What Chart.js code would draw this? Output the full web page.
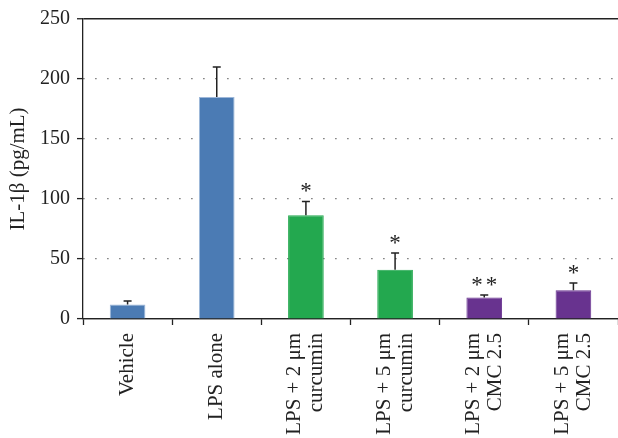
<!DOCTYPE html>
<html>
<head>
<meta charset="utf-8">
<script src="https://cdn.jsdelivr.net/npm/chart.js@4/dist/chart.umd.min.js"></script>
<style>
  html, body { margin: 0; padding: 0; background: #fff; }
  #canvas-bar { display: block; }
</style>
</head>
<body>
<canvas id="canvas-bar" width="618" height="438"></canvas>
<script>
window.addEventListener("load", start);

const categories = [
  ["Vehicle"],
  ["LPS alone"],
  ["LPS + 2 μm", "curcumin"],
  ["LPS + 5 μm", "curcumin"],
  ["LPS + 2 μm", "CMC 2.5"],
  ["LPS + 5 μm", "CMC 2.5"]
];
const meanValues = [12, 185, 86.5, 41, 18, 24];
const errorValues = [3, 25, 11.5, 14, 2, 6];
const significance = ["", "", "*", "*", "**", "*"];
const yTicks = [0, 50, 100, 150, 200, 250];

const serif = "'Liberation Serif', 'DejaVu Serif', serif";
const ink = '#222';
const labelLineHeight = 22;

// draws the upper error bar and the asterisks over each bar
const errorBarPlugin = {
  id: 'errorBars',
  afterDatasetsDraw(chart) {
    const ctx = chart.ctx;
    const yScale = chart.scales.y;
    const meta = chart.getDatasetMeta(0);
    ctx.save();
    ctx.strokeStyle = ink;
    ctx.lineWidth = 1.5;
    meta.data.forEach((bar, i) => {
      const yTop = yScale.getPixelForValue(meanValues[i] + errorValues[i]);
      const yBar = yScale.getPixelForValue(meanValues[i]);
      ctx.beginPath();
      ctx.moveTo(bar.x, yBar);
      ctx.lineTo(bar.x, yTop);
      ctx.moveTo(bar.x - 4, yTop);
      ctx.lineTo(bar.x + 4, yTop);
      ctx.stroke();
      if (significance[i]) {
        ctx.fillStyle = ink;
        ctx.font = "23px " + serif;
        ctx.letterSpacing = "3px";
        ctx.textAlign = 'center';
        ctx.textBaseline = 'alphabetic';
        ctx.fillText(significance[i], bar.x + 1.5, yTop - 3);
      }
    });
    ctx.restore();
  }
};

// center the two-line tick labels on their category (Chart.js puts the first line there)
const labelCenterPlugin = {
  id: 'labelCenter',
  beforeDraw(chart) {
    const scale = chart.scales.x;
    if (!scale.getLabelItems) return;
    scale.getLabelItems(chart.chartArea).forEach(item => {
      if (Array.isArray(item.label) && item.label.length > 1 && !item.shifted) {
        item.options.translation[0] -= labelLineHeight * (item.label.length - 1) / 2;
        item.shifted = true;
      }
    });
  }
};

function start(event) {
  const ctx = document.getElementById('canvas-bar').getContext('2d');
  const data = {
    labels: categories,
    datasets: [{
      label: "IL-1β",
      data: meanValues,
      backgroundColor: ['#4b7bb4', '#4b7bb4', '#23a84f', '#23a84f', '#68338f', '#68338f'],
      borderColor: ['#9db7d9', '#9db7d9', '#23a84f', '#23a84f', '#68338f', '#68338f'],
      borderWidth: 1,
      barPercentage: 0.8,
      categoryPercentage: 0.5
    }]
  };
  new Chart(ctx, {
    type: 'bar',
    data: data,
    plugins: [errorBarPlugin, labelCenterPlugin],
    options: {
      responsive: false,
      animation: false,
      layout: { padding: { top: 15, right: 0, left: 0, bottom: 0 } },
      plugins: {
        legend: { display: false },
        tooltip: { enabled: false }
      },
      scales: {
        x: {
          offset: true,
          afterFit: (scale) => { scale.height = 119; scale.paddingRight = 0; scale.paddingLeft = 0; },
          grid: {
            offset: true,
            drawOnChartArea: false,
            drawTicks: true,
            tickLength: 6,
            tickColor: ink,
            tickWidth: 1.3
          },
          border: { color: ink, width: 1.3 },
          ticks: {
            autoSkip: false,
            minRotation: 90,
            maxRotation: 90,
            padding: 8,
            color: ink,
            font: { family: serif, size: 21, lineHeight: labelLineHeight + 'px' }
          }
        },
        y: {
          min: 0,
          max: 250,
          afterFit: (scale) => { scale.width = 83; },
          afterBuildTicks: (scale) => { scale.ticks = yTicks.map(v => ({ value: v })); },
          title: {
            display: true,
            text: "IL-1β (pg/mL)",
            color: ink,
            font: { family: serif, size: 21 },
            padding: { top: 6, bottom: 0 }
          },
          grid: {
            color: (c) => (c.tick && c.tick.value > 0 && c.tick.value < 250) ? '#555' : ink,
            lineWidth: (c) => (c.tick && c.tick.value === 250) ? 1.5 : 1.2,
            tickLength: 6,
            tickColor: ink,
            tickWidth: 1.3
          },
          border: {
            color: ink,
            width: 1.3,
            dash: (c) => (c.tick && c.tick.value > 0 && c.tick.value < 250) ? [1.2, 10.8] : []
          },
          ticks: {
            padding: 7,
            color: ink,
            font: { family: serif, size: 20 }
          }
        }
      }
    }
  });
}
</script>
</body>
</html>
